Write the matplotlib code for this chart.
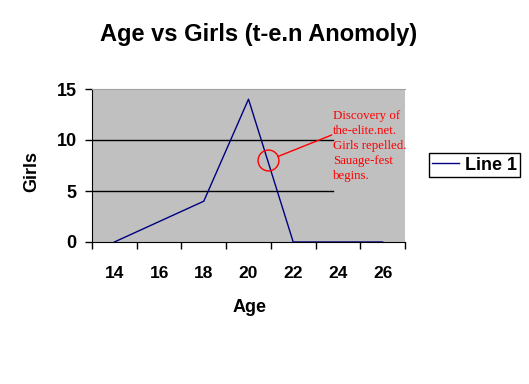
import numpy as np
import matplotlib.pyplot as plt

plt.rcParams['font.family'] = ['Liberation Sans', 'DejaVu Sans']

ages = [14, 16, 18, 20, 22, 24, 26]
girls = [0, 2, 4, 14, 0, 0, 0]
y_ticks = [0, 5, 10, 15]
note = "Discovery of\nthe-elite.net.\nGirls repelled.\nSauage-fest\nbegins."

fig = plt.figure(figsize=(5.29, 3.84), dpi=100)
ax = fig.add_axes([92 / 529, 1 - 242 / 384, 313 / 529, 153 / 384])
ax.set_facecolor('#c0c0c0')

pos = np.arange(len(ages))
line, = ax.plot(pos, girls, color='#000080', lw=1, label='Line 1', zorder=3)

# gridlines stop where the note begins
for v in [5, 10]:
    ax.axhline(v, xmin=0, xmax=0.77, color='black', lw=1, zorder=2)

ax.set_xlim(-0.5, len(ages) - 0.5)
ax.set_ylim(0, 15)

# category axis: tick marks between categories, labels at centres
ax.set_xticks(np.arange(len(ages) + 1) - 0.5)
ax.set_xticklabels([])
ax.set_xticks(pos, minor=True)
ax.set_xticklabels([str(a) for a in ages], minor=True, fontsize=12.5, fontweight='bold')
ax.tick_params(axis='x', which='major', length=5, width=1, direction='out')
ax.tick_params(axis='x', which='minor', length=0, pad=17)

ax.set_yticks(y_ticks)
ax.set_yticklabels([str(v) for v in y_ticks], fontsize=13, fontweight='bold')
ax.tick_params(axis='y', length=5, width=1, direction='out', pad=6)

ax.spines['right'].set_visible(False)
ax.spines['top'].set_color('#a0a0a0')
ax.spines['left'].set_color('black')
ax.spines['bottom'].set_color('black')

ax.set_xlabel('Age', fontsize=13, fontweight='bold', va='center')
ax.xaxis.set_label_coords(0.502, -0.431)
ax.set_ylabel('Girls', fontsize=13, fontweight='bold', va='center')
ax.yaxis.set_label_coords(-0.192, 0.459)

fig.suptitle('Age vs Girls (t-e.n Anomoly)', x=259 / 529, y=1 - 34 / 384,
             fontsize=17, fontweight='bold', va='center')

# the note
ax.plot([3.44], [8.0], marker='o', ms=15, mfc='none', mec='#ff0000', mew=1, zorder=4)
ax.annotate('', xy=(3.44, 8.0), xytext=(331.7, 384 - 135), textcoords='figure pixels',
            arrowprops=dict(arrowstyle='-', color='#ff0000', lw=1, shrinkA=0, shrinkB=7.5))
fig.text(333 / 529, 1 - 110 / 384, note, family='Liberation Serif', fontsize=9.3,
         color='#ff0000', ha='left', va='top', linespacing=1.32)

leg = fig.legend(handles=[line], loc='center', bbox_to_anchor=(474.5 / 529, 1 - 165 / 384),
                 fancybox=False, edgecolor='black', framealpha=1, handlelength=1.5,
                 handletextpad=0.3, borderpad=0.2, borderaxespad=0,
                 prop={'size': 13, 'weight': 'bold'})
leg.get_frame().set_linewidth(1)

fig.savefig('out.png', dpi=100)
